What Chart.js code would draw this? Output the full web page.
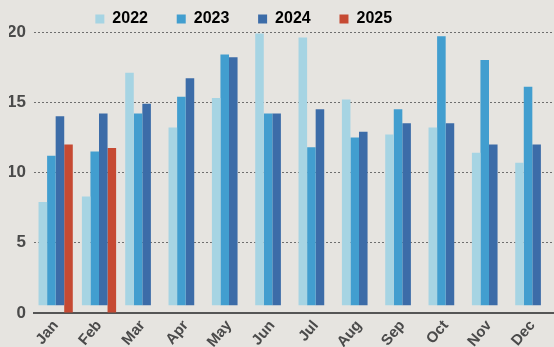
<!DOCTYPE html>
<html>
<head>
<meta charset="utf-8">
<script src="https://cdn.jsdelivr.net/npm/chart.js@4.4.1/dist/chart.umd.min.js"></script>
<style>
  html, body { margin: 0; padding: 0; background: #e6e4e0; }
  #wrap { width: 554px; height: 347px; }
</style>
</head>
<body>
<div id="wrap"><canvas id="myChart"></canvas></div>
<script>
// data
const months = ["Jan", "Feb", "Mar", "Apr", "May", "Jun", "Jul", "Aug", "Sep", "Oct", "Nov", "Dec"];
const years = ["2022", "2023", "2024", "2025"];
const values2022 = [7.9, 8.3, 17.1, 13.2, 15.3, 19.9, 19.6, 15.2, 12.7, 13.2, 11.4, 10.7];
const values2023 = [11.2, 11.5, 14.2, 15.4, 18.4, 14.2, 11.8, 12.5, 14.5, 19.7, 18.0, 16.1];
const values2024 = [14.0, 14.2, 14.9, 16.7, 18.2, 14.2, 14.5, 12.9, 13.5, 13.5, 12.0, 12.0];
const values2025 = [12.0, 11.75];
const yTicks = [0, 5, 10, 15, 20];

const colors = ["#a6d4e3", "#429ecf", "#3c6ca8", "#c64a33"];
const textColor = "#4a4a4a";
const fontFamily = "'Liberation Sans', Arial, sans-serif";

const series = [values2022, values2023, values2024, values2025];

// legend is a bit shorter than Chart.js makes it
const legendHeight = {
  id: "legendHeight",
  afterInit(chart) {
    const legend = chart.legend;
    const fit = legend.fit;
    legend.fit = function () {
      fit.call(this);
      this.height = 32;
    };
  },
};

const ctx = document.getElementById("myChart").getContext("2d");
new Chart(ctx, {
  type: "bar",
  data: {
    labels: months,
    datasets: years.map((year, i) => ({
      label: year,
      data: series[i],
      backgroundColor: colors[i],
      borderWidth: 0,
      base: i < 3 ? 0.55 : 0,
      categoryPercentage: 0.79,
      barPercentage: 1.0,
    })),
  },
  options: {
    responsive: true,
    maintainAspectRatio: false,
    animation: false,
    devicePixelRatio: 1,
    layout: { padding: { left: 9, right: 0, top: 0, bottom: 0 } },
    plugins: {
      tooltip: { enabled: false },
      legend: {
        position: "top",
        align: "center",
        labels: {
          color: textColor,
          boxWidth: 9,
          boxHeight: 9,
          padding: 11,
          font: { family: fontFamily, size: 16, weight: "bold" },
          generateLabels: (chart) =>
            chart.data.datasets.map((ds, i) => ({
              // extra spaces widen the gaps between legend items
              text: ds.label + "\u00a0".repeat(i < 3 ? 4 : 17),
              fillStyle: ds.backgroundColor,
              strokeStyle: ds.backgroundColor,
              lineWidth: 0,
              hidden: false,
              datasetIndex: i,
            })),
        },
      },
    },
    scales: {
      x: {
        grid: { display: false, drawTicks: false },
        border: { display: true, color: "#555", width: 2 },
        afterFit: (axis) => {
          axis.height = 34;
        },
        ticks: {
          color: textColor,
          minRotation: 50,
          maxRotation: 50,
          padding: 4,
          font: { family: fontFamily, size: 15, weight: "bold" },
        },
      },
      y: {
        min: 0,
        max: 20,
        afterBuildTicks: (axis) => {
          axis.ticks = yTicks.map((v) => ({ value: v }));
        },
        afterFit: (axis) => {
          axis.width = 25;
        },
        grid: {
          drawTicks: false,
          color: (c) => (c.tick && c.tick.value === 0 ? "rgba(0,0,0,0)" : "#6e6e6e"),
          lineWidth: 1,
        },
        border: { display: false, dash: [2, 2] },
        ticks: {
          color: textColor,
          padding: 8,
          font: { family: fontFamily, size: 17, weight: "bold" },
        },
      },
    },
  },
  plugins: [legendHeight],
});
</script>
</body>
</html>
